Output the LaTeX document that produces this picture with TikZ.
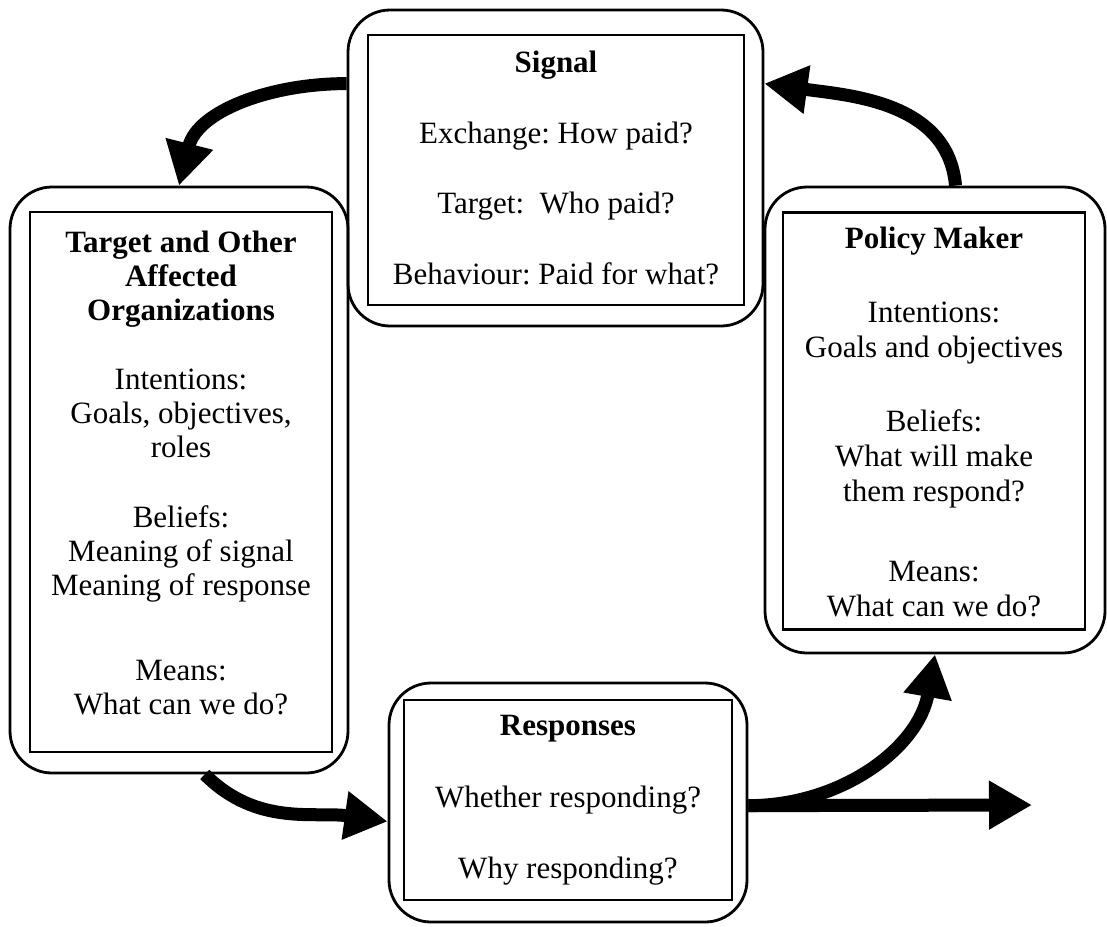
\documentclass[tikz,border=0pt]{standalone}
\usepackage{fontspec}
\setmainfont{Liberation Serif}
\usetikzlibrary{arrows.meta}
\begin{document}
\frenchspacing
\begin{tikzpicture}[x=1pt,y=-1pt,
  outerbox/.style={draw, line width=2.8pt, rounded corners=42pt, inner sep=0pt},
  innerbox/.style={draw, line width=2.2pt, inner sep=0pt},
  boxtext/.style={inner sep=0pt, align=center, font=\fontsize{31}{34}\selectfont},
  bigarrow/.style={line width=13pt, -{Triangle[length=43pt,width=46pt]}}
]
\useasboundingbox (0,0) rectangle (1107,926);

% Signal
\node[outerbox, minimum width=415pt, minimum height=316pt] (sigout) at (555.5,168) {};
\node[innerbox, minimum width=376pt, minimum height=270pt] (sig) at (556,170) {};
\node[boxtext, font=\fontsize{31}{35}\selectfont] (sigtxt) at (556,168)
  {\textbf{Signal}\\[36pt]Exchange: How paid?\\[35pt]Target:\ \ Who paid?\\[36pt]Behaviour: Paid for what?};

% Target
\node[outerbox, minimum width=338pt, minimum height=586pt] (tgtout) at (179,480) {};
\node[innerbox, minimum width=302pt, minimum height=540pt] (tgt) at (181,482) {};
\node[boxtext] (tgttxt) at (181,472.5)
  {\textbf{Target and Other}\\\textbf{Affected}\\\textbf{Organizations}\\[35pt]
   Intentions:\\Goals, objectives,\\roles\\[36pt]
   Beliefs:\\Meaning of signal\\Meaning of response\\[51pt]
   Means:\\What can we do?};

% Policy Maker
\node[outerbox, minimum width=340pt, minimum height=466pt] (polout) at (935,420) {};
\node[innerbox, minimum width=302pt, minimum height=417pt] (pol) at (934,421) {};
\node[boxtext, font=\fontsize{31}{35}\selectfont] (poltxt) at (934,421.5)
  {\textbf{Policy Maker}\\[39pt]Intentions:\\Goals and objectives\\[39pt]
   Beliefs:\\What will make\\them respond?\\[45pt]Means:\\What can we do?};

% Responses
\node[outerbox, minimum width=358pt, minimum height=239pt] (resout) at (568,802.5) {};
\node[innerbox, minimum width=328pt, minimum height=200pt] (res) at (568,800) {};
\node[boxtext, font=\fontsize{31}{35}\selectfont] (restxt) at (568,800.5)
  {\textbf{Responses}\\[37pt]Whether responding?\\[36pt]Why responding?};

\coordinate (outend) at (1032,805);

% Arrows
\draw[bigarrow] (sigout.158) to[out=180,in=76] (tgtout.north);
\draw[bigarrow] (polout.85) to[out=95,in=-8] (sigout.22);
\draw[bigarrow] (tgtout.-85) to[out=-45,in=172] (resout.186);
\draw[bigarrow] (resout.-1) to[out=0,in=-100] (polout.south);
\draw[bigarrow] (resout.-1) -- (outend);
\end{tikzpicture}
\end{document}
